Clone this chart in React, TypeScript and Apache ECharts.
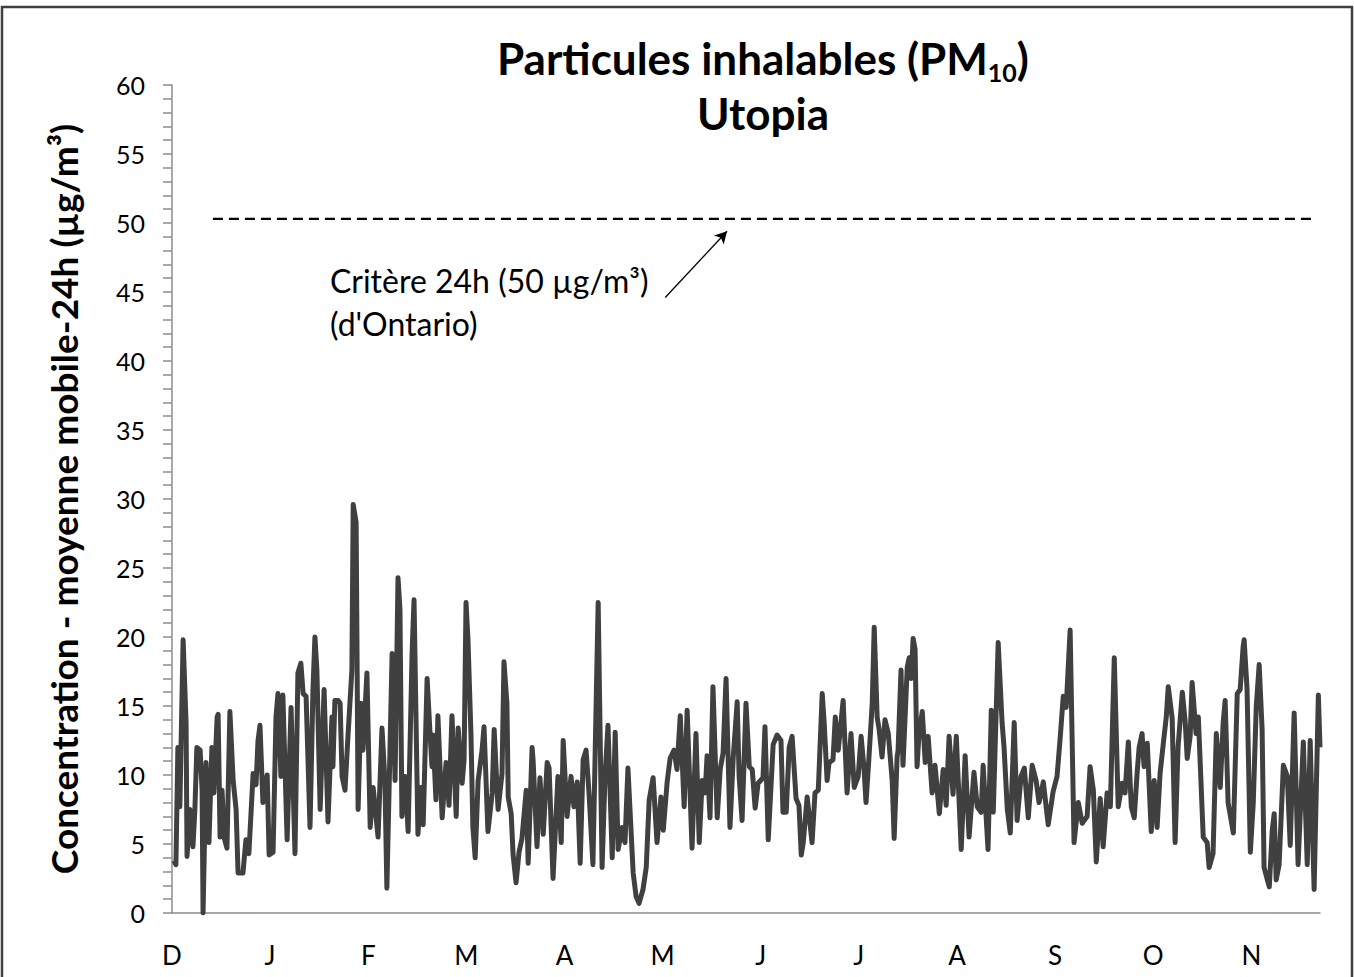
import { useEffect, useRef } from "react";
import * as echarts from "echarts";

// Month initials shown on the x axis (one every 30 days, starting in December)
const monthLabels = ["D", "J", "F", "M", "A", "M", "J", "J", "A", "S", "O", "N"];
const daysPerMonthTick = 30;
const xMaxDay = 351;

// y axis range
const yMin = 0;
const yMax = 60;
const yStep = 5;

// Ontario 24h criterion (µg/m³) and how the dashed reference line sits in the picture
const criterionValue = 50;
const criterionLineLevel = 50.3;
const criterionStartDay = 12.5;
const criterionEndDay = 349;

// Arrow of the annotation: [day, value] from -> to
const arrowFrom: [number, number] = [150.8, 44.6];
const arrowTo: [number, number] = [169.7, 49.4];

// PM10 24h rolling mean readings: [day since start of December, µg/m³]
const pm10Readings: [number, number][] = [
  [0.6, 3.8], [1.2, 3.5], [1.8, 12.0], [2.4, 7.7], [3.4, 19.8], [4.3, 13.8], [4.6, 4.1], [5.5, 7.5], [6.4, 4.8], [7.0, 7.5],
  [7.6, 12.0], [8.6, 11.8], [9.2, 8.9], [9.5, 0], [10.4, 10.9], [11.3, 5.1], [12.2, 12.0], [12.8, 8.7], [13.8, 14.2], [14.1, 14.4],
  [14.7, 5.5], [15.3, 8.9], [15.9, 5.5], [16.8, 4.7], [17.7, 14.6], [18.7, 9.6], [19.6, 7.5], [20.2, 2.9], [21.7, 2.9], [22.6, 5.3],
  [23.5, 4.3], [24.8, 10.1], [25.7, 9.3], [26.3, 12.5], [26.9, 13.6], [27.8, 8.0], [29.1, 10.0], [29.7, 4.2], [30.9, 4.4], [31.8, 14.2],
  [32.4, 15.9], [33.3, 9.9], [33.9, 15.8], [35.2, 5.3], [36.4, 14.9], [37.6, 4.3], [38.5, 17.4], [39.4, 18.1], [40.1, 15.9], [41.0, 15.7],
  [42.2, 6.2], [43.1, 16.2], [43.7, 20.0], [44.3, 17.6], [45.3, 7.5], [46.5, 16.2], [47.7, 6.6], [48.9, 14.2], [49.2, 10.6], [49.8, 15.4],
  [50.8, 15.4], [51.4, 15.2], [52.0, 9.9], [52.9, 8.9], [53.8, 12.8], [55.0, 17.6], [55.4, 29.6], [56.3, 28.3], [56.9, 7.5], [57.8, 15.2],
  [58.4, 11.8], [59.6, 17.4], [60.6, 6.2], [61.5, 9.1], [63.0, 5.5], [64.2, 13.4], [65.1, 9.6], [65.7, 1.8], [67.3, 18.8], [68.2, 9.6],
  [69.1, 24.3], [69.7, 22.0], [70.3, 7.0], [71.3, 9.9], [72.2, 5.9], [73.4, 18.8], [74.0, 22.7], [75.2, 5.7], [76.1, 9.1], [76.8, 6.4],
  [78.0, 17.0], [78.9, 13.0], [79.5, 10.6], [79.8, 12.9], [80.7, 8.2], [81.3, 14.3], [82.6, 6.9], [83.8, 10.9], [84.7, 7.8], [85.6, 14.3],
  [86.9, 7.0], [87.5, 13.4], [88.7, 9.4], [89.3, 11.1], [89.9, 22.5], [90.5, 19.8], [91.4, 13.0], [92.0, 6.2], [92.7, 4.0], [93.6, 9.6],
  [94.8, 11.8], [95.4, 13.5], [96.6, 5.9], [97.9, 8.7], [98.5, 13.3], [99.7, 7.5], [100.9, 10.1], [101.5, 18.2], [102.4, 15.2], [102.8, 8.4],
  [103.7, 7.2], [104.3, 4.2], [105.2, 2.2], [106.1, 4.4], [107.0, 5.4], [108.3, 8.9], [108.9, 3.6], [110.1, 12.0], [110.4, 11.1], [111.6, 4.8],
  [112.5, 9.8], [113.5, 5.7], [114.7, 10.9], [115.3, 10.5], [116.5, 2.5], [118.0, 9.9], [119.0, 5.1], [119.6, 12.5], [120.8, 7.0], [122.0, 9.9],
  [122.9, 7.7], [123.9, 9.5], [124.8, 3.6], [125.7, 11.1], [126.6, 11.8], [127.5, 8.7], [128.7, 3.5], [130.3, 22.5], [131.5, 3.3], [132.4, 9.9],
  [133.3, 13.6], [134.6, 4.0], [135.5, 13.1], [136.4, 4.6], [137.6, 6.2], [138.5, 5.1], [139.4, 10.5], [141.0, 2.9], [141.9, 1.2], [142.8, 0.7],
  [144.0, 1.7], [145.0, 3.3], [145.9, 8.2], [147.1, 9.8], [148.3, 5.1], [149.5, 8.4], [150.2, 6.0], [151.4, 9.5], [152.3, 11.2], [153.5, 11.8],
  [154.4, 10.4], [155.4, 14.3], [156.6, 7.7], [157.5, 14.7], [159.0, 4.7], [160.2, 13.0], [161.2, 5.1], [162.1, 9.6], [163.0, 8.7], [163.6, 11.4],
  [164.5, 6.9], [165.4, 16.4], [166.7, 6.9], [167.6, 10.4], [168.5, 11.6], [169.4, 17.0], [170.6, 6.2], [171.6, 11.3], [172.8, 15.3], [173.4, 9.9],
  [174.3, 6.7], [175.5, 15.2], [176.5, 10.6], [177.4, 10.4], [178.3, 7.6], [179.2, 9.4], [180.7, 9.8], [181.3, 13.5], [182.3, 5.3], [183.8, 12.2],
  [185.0, 12.9], [186.2, 12.5], [186.8, 7.3], [187.8, 7.3], [188.7, 12.0], [189.6, 12.8], [190.8, 8.3], [191.7, 7.8], [192.4, 4.2], [193.0, 5.1],
  [194.2, 8.4], [195.7, 5.1], [196.6, 8.7], [197.6, 8.9], [198.8, 15.9], [199.4, 13.8], [200.3, 9.6], [200.9, 10.9], [202.1, 11.1], [202.8, 14.2],
  [203.7, 11.8], [205.2, 15.4], [206.4, 8.7], [207.6, 13.0], [208.6, 9.1], [209.8, 9.9], [210.7, 12.8], [211.6, 10.4], [212.2, 8.0], [213.1, 11.3],
  [214.1, 15.2], [214.7, 20.7], [215.6, 14.2], [216.2, 13.3], [217.1, 11.3], [218.0, 14.0], [219.0, 13.0], [220.2, 9.6], [220.8, 5.4], [221.7, 11.3],
  [222.0, 11.8], [222.9, 17.6], [223.5, 10.7], [224.8, 17.8], [225.4, 18.5], [226.0, 17.0], [226.6, 19.9], [227.2, 19.1], [227.8, 10.6], [228.4, 13.0],
  [229.4, 14.6], [230.3, 10.9], [231.2, 12.8], [232.4, 8.7], [233.3, 10.7], [234.6, 7.2], [235.8, 10.4], [236.7, 7.8], [237.6, 12.8], [238.8, 8.6],
  [239.8, 12.8], [241.3, 4.6], [242.5, 11.4], [243.7, 5.5], [245.2, 10.2], [246.2, 7.7], [247.4, 7.3], [248.0, 10.7], [249.5, 4.6], [250.5, 14.7],
  [251.1, 7.3], [252.6, 19.6], [253.8, 13.8], [254.4, 12.0], [255.4, 7.5], [256.3, 5.8], [257.5, 13.8], [258.4, 6.7], [259.6, 9.9], [260.6, 10.5],
  [261.8, 6.9], [263.0, 10.7], [264.2, 9.6], [265.1, 8.0], [266.4, 9.5], [267.9, 6.4], [269.4, 8.8], [270.6, 9.9], [271.6, 12.8], [272.5, 15.7],
  [273.4, 14.9], [274.6, 20.5], [275.8, 5.1], [277.1, 8.0], [278.3, 6.5], [279.8, 7.0], [280.7, 10.6], [281.7, 8.9], [282.6, 3.7], [283.8, 8.3],
  [284.7, 4.8], [285.9, 8.7], [286.9, 7.7], [288.1, 18.5], [289.3, 7.7], [290.5, 9.4], [291.4, 8.7], [292.4, 12.4], [293.3, 7.7], [294.2, 6.9],
  [295.1, 10.2], [295.7, 12.0], [296.6, 13.0], [297.2, 10.6], [298.2, 12.3], [299.4, 5.9], [300.3, 9.6], [301.2, 6.2], [302.1, 10.1], [303.1, 12.3],
  [304.0, 14.2], [304.6, 16.4], [305.8, 14.1], [306.7, 5.1], [307.6, 12.0], [308.9, 16.0], [309.8, 13.8], [310.4, 11.2], [311.3, 12.8], [311.9, 16.7],
  [313.1, 13.0], [313.8, 14.2], [315.3, 5.5], [316.5, 5.1], [317.1, 3.3], [318.3, 4.3], [319.3, 13.0], [320.5, 9.1], [321.4, 13.8], [322.0, 15.4],
  [322.9, 8.0], [324.5, 5.8], [325.7, 15.9], [326.6, 16.2], [327.5, 19.3], [327.8, 19.8], [328.7, 16.2], [329.7, 4.4], [330.6, 8.0], [331.5, 14.9],
  [332.4, 18.0], [333.3, 13.3], [333.9, 3.3], [334.9, 2.4], [335.5, 1.9], [336.4, 6.0], [337.0, 7.2], [337.6, 2.4], [338.5, 3.5], [339.8, 10.7],
  [341.0, 9.9], [341.9, 4.9], [343.1, 14.5], [344.3, 3.5], [345.9, 12.4], [347.1, 3.5], [348.0, 12.5], [349.2, 1.7], [350.5, 15.8], [351.0, 12.0],
];

const FONT = "Lato, 'Noto Sans', sans-serif";

export default function App() {
  const ref = useRef<HTMLDivElement>(null);

  useEffect(() => {
    document.body.style.margin = "0";
    if (!ref.current) return;
    const chart = echarts.init(ref.current, null, { renderer: "svg" });
    chart.setOption({
      animation: false,
      backgroundColor: "#ffffff",
      textStyle: { fontFamily: FONT },
      grid: { left: 172, right: 34, top: 85, bottom: 64, containLabel: false },
      xAxis: {
        type: "value",
        min: 0,
        max: xMaxDay,
        interval: daysPerMonthTick,
        axisLine: { show: true, lineStyle: { color: "#8c8c8c", width: 1.5 } },
        axisTick: { show: false },
        splitLine: { show: false },
        axisLabel: {
          fontSize: 26,
          color: "#000",
          margin: 29,
          fontFamily: FONT,
          formatter: (v: number) =>
            v % daysPerMonthTick === 0 ? monthLabels[v / daysPerMonthTick] ?? "" : "",
        },
      },
      yAxis: {
        type: "value",
        min: yMin,
        max: yMax,
        interval: yStep,
        axisLine: { show: true, lineStyle: { color: "#8c8c8c", width: 1.5 } },
        axisTick: { show: true, length: 9, lineStyle: { color: "#8c8c8c", width: 1.5 } },
        minorTick: { show: true, splitNumber: 5, length: 9, lineStyle: { color: "#8c8c8c", width: 1.5 } },
        splitLine: { show: false },
        axisLabel: { fontSize: 25, color: "#000", margin: 27, fontFamily: FONT },
        name: "Concentration - moyenne mobile-24h (µg/m³)",
        nameLocation: "middle",
        nameGap: 90,
        nameTextStyle: { fontSize: 37, fontWeight: "bold", color: "#000", fontFamily: FONT },
      },
      series: [
        {
          name: "PM10",
          type: "line",
          data: pm10Readings,
          symbol: "none",
          lineStyle: { color: "#404040", width: 5, join: "round" },
          itemStyle: { color: "#404040" },
          z: 3,
          markLine: {
            silent: true,
            symbol: ["none", "arrow"],
            symbolSize: [10, 12],
            label: { show: false },
            lineStyle: { color: "#000", width: 1.3, type: "solid" },
            data: [[{ coord: arrowFrom }, { coord: arrowTo }]],
          },
        },
        {
          name: `Critère ${criterionValue}`,
          type: "line",
          data: [
            [criterionStartDay, criterionLineLevel],
            [criterionEndDay, criterionLineLevel],
          ],
          symbol: "none",
          lineStyle: { color: "#000", width: 2.2, type: [10, 6] },
          z: 2,
        },
      ],
      graphic: [
        {
          type: "rect",
          shape: { x: 2, y: 7, width: 1350, height: 976 },
          style: { fill: "none", stroke: "#404040", lineWidth: 2.5 },
          silent: true,
        },
        {
          type: "text",
          x: 763,
          y: 58,
          style: {
            text: "{a|Particules inhalables (PM}{b|10}{a|)}",
            align: "center",
            verticalAlign: "middle",
            rich: {
              a: { fontSize: 44, fontWeight: "bold", fontFamily: FONT, lineHeight: 52, fill: "#000" },
              b: { fontSize: 25, fontWeight: "bold", fontFamily: FONT, lineHeight: 14, verticalAlign: "bottom", fill: "#000" },
            },
          },
        },
        {
          type: "text",
          x: 763,
          y: 113,
          style: {
            text: "Utopia",
            align: "center",
            verticalAlign: "middle",
            fontSize: 44,
            fontWeight: "bold",
            fontFamily: FONT,
            fill: "#000",
          },
        },
        {
          type: "text",
          x: 330,
          y: 280,
          style: {
            text: `Critère 24h (${criterionValue} µg/m³)`,
            align: "left",
            verticalAlign: "middle",
            fontSize: 32,
            fontFamily: FONT,
            fill: "#000",
          },
        },
        {
          type: "text",
          x: 330,
          y: 323,
          style: {
            text: "(d'Ontario)",
            align: "left",
            verticalAlign: "middle",
            fontSize: 32,
            fontFamily: FONT,
            fill: "#000",
          },
        },
      ],
    });
    return () => chart.dispose();
  }, []);

  return <div ref={ref} style={{ width: 1354, height: 977 }} />;
}
